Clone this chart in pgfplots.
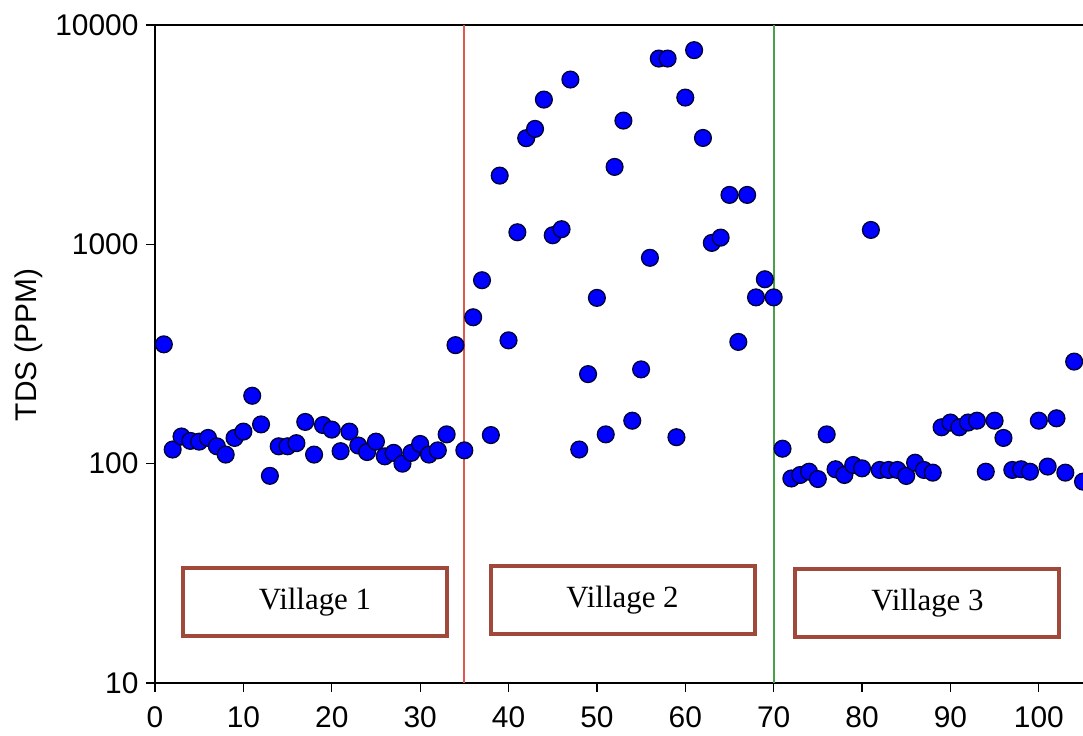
\documentclass[border=0pt]{standalone}
\usepackage{fontspec}
\setmainfont{Liberation Sans}
\newfontfamily\timesfont{Liberation Serif}
\usepackage{pgfplots}
\pgfplotsset{compat=1.18}
\definecolor{mblue}{RGB}{0,0,255}
\definecolor{boxbrown}{RGB}{160,72,58}
\definecolor{vred}{RGB}{222,88,78}
\definecolor{vgreen}{RGB}{72,160,72}
\begin{document}
\begin{tikzpicture}
\useasboundingbox (-155bp,-53bp) rectangle (928bp,683bp);
\begin{axis}[at={(0,0)}, anchor=south west, scale only axis,
  width=928bp, height=658bp,
  xmin=0, xmax=105, ymode=log, ymin=10, ymax=10000,
  axis x line*=box, axis y line*=left,
  xtick={0,10,...,100}, ytick={10,100,1000,10000},
  yminorticks=false, log ticks with fixed point,
  /pgf/number format/1000 sep={}, /pgf/number format/assume math mode=true,
  tick align=outside, major tick length=9bp, xtick pos=left, ytick pos=left,
  tick style={black, line width=1.2bp},
  axis line style={black, line width=1.6bp},
  tick label style={font=\fontsize{30}{34}\selectfont},
  xticklabel style={yshift=-11bp}, yticklabel style={xshift=-4bp},
  ylabel={TDS (PPM)},
  ylabel style={at={(axis description cs:-0.1358,0.514)}, anchor=center, rotate=0, font=\fontsize{30}{34}\selectfont},
]
\addplot[vred, line width=2bp, forget plot] coordinates {(35,10) (35,10000)};
\addplot[vgreen, line width=2bp, forget plot] coordinates {(70,10) (70,10000)};
\addplot[only marks, mark=*, mark size=8.4bp, mark options={fill=mblue, draw=black!80!blue, line width=1.3bp}]
coordinates {
(1,350) (2,116) (3,133) (4,127) (5,126) (6,131) (7,120) (8,110) (9,131) (10,140)
(11,204) (12,151) (13,88) (14,120) (15,120) (16,124) (17,155) (18,110) (19,150) (20,143)
(21,114) (22,140) (23,121) (24,113) (25,126) (26,108) (27,112) (28,100) (29,112) (30,123)
(31,110) (32,115) (33,136) (34,347) (35,115) (36,465) (37,686) (38,135) (39,2057) (40,365)
(41,1135) (42,3047) (43,3360) (44,4570) (45,1100) (46,1172) (47,5640) (48,116) (49,256) (50,570)
(51,136) (52,2254) (53,3666) (54,157) (55,269) (56,868) (57,7030) (58,7030) (59,132) (60,4667)
(61,7680) (62,3055) (63,1015) (64,1073) (65,1680) (66,359) (67,1680) (68,573) (69,693) (70,573)
(71,117) (72,85.6) (73,88.8) (74,91.9) (75,85.1) (76,136) (77,94.3) (78,88.8) (79,98.6) (80,95.2)
(81,1163) (82,93.6) (83,93.6) (84,93.6) (85,87.9) (86,101) (87,93.6) (88,91) (89,146.5) (90,154)
(91,146.5) (92,154) (93,157) (94,91.9) (95,157) (96,131) (97,93.6) (98,94.3) (99,91.9) (100,157)
(101,97) (102,161) (103,91) (104,292) (105,82.8)
};
\node[draw=boxbrown, line width=4bp, minimum width=264bp, minimum height=68bp, inner sep=0pt, font=\timesfont\fontsize{31}{34}\selectfont] at (axis cs:18.1,23.4) {Village 1};
\node[draw=boxbrown, line width=4bp, minimum width=264bp, minimum height=68bp, inner sep=0pt, font=\timesfont\fontsize{31}{34}\selectfont] at (axis cs:52.9,23.9) {Village 2};
\node[draw=boxbrown, line width=4bp, minimum width=264bp, minimum height=68bp, inner sep=0pt, font=\timesfont\fontsize{31}{34}\selectfont] at (axis cs:87.4,23.2) {Village 3};
\end{axis}
\end{tikzpicture}
\end{document}
